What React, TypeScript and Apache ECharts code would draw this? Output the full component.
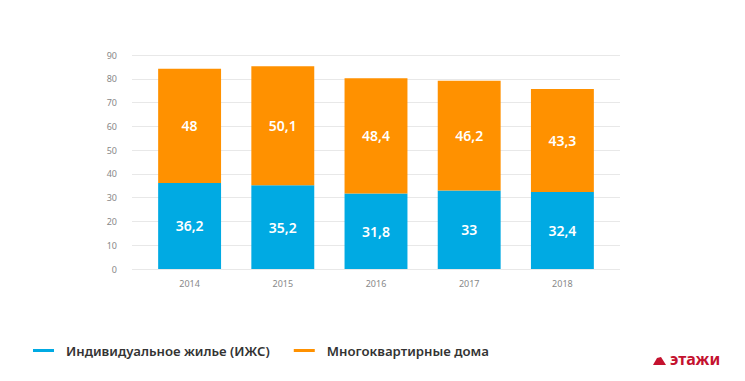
import React, { useEffect, useRef } from "react";
import * as echarts from "echarts";

const years = ["2014", "2015", "2016", "2017", "2018"];
const izhs = [36.2, 35.2, 31.8, 33, 32.4];
const mkd = [48, 50.1, 48.4, 46.2, 43.3];
const seriesNames = ["Индивидуальное жилье (ИЖС)", "Многоквартирные дома"];

const BLUE = "#00aae3";
const ORANGE = "#ff9100";
const FONT = "'Noto Sans', 'Open Sans', sans-serif";

export default function App() {
  const ref = useRef<HTMLDivElement>(null);
  useEffect(() => {
    const chart = echarts.init(ref.current!, undefined, { renderer: "svg" });
    const label = {
      show: true,
      color: "#fff",
      fontSize: 14,
      fontWeight: 600,
      fontFamily: FONT,
      formatter: (p: any) => String(p.value).replace(".", ","),
    };
    chart.setOption({
      animation: false,
      backgroundColor: "#fff",
      grid: [
        { left: 132, right: 125, top: 55, bottom: 112 },
        { left: 143, right: 136, top: 55, bottom: 112 },
      ],
      legend: {
        left: 28,
        top: 339,
        icon: "rect",
        itemWidth: 21,
        itemHeight: 3,
        itemGap: 24,
        textStyle: {
          color: "#333",
          fontSize: 13.2,
          fontWeight: 600,
          fontFamily: FONT,
          padding: [0, 0, 0, 7],
        },
        data: seriesNames,
      },
      xAxis: [
        { type: "value", gridIndex: 0, min: 0, max: 1, show: false },
        {
          type: "category",
          gridIndex: 1,
          data: years,
          axisLine: { show: false },
          axisTick: { show: false },
          axisLabel: { color: "#888", fontSize: 9, fontFamily: FONT, margin: 10 },
        },
      ],
      yAxis: [
        {
          type: "value",
          gridIndex: 0,
          min: 0,
          max: 90,
          interval: 10,
          axisLine: { show: false },
          axisTick: { show: false },
          splitLine: { lineStyle: { color: "#e8e8e8" } },
          axisLabel: { color: "#888", fontSize: 9, fontFamily: FONT, margin: 15 },
        },
        {
          type: "value",
          gridIndex: 1,
          min: 0,
          max: 90,
          interval: 10,
          show: false,
          splitLine: { show: false },
        },
      ],
      series: [
        {
          name: seriesNames[0],
          type: "bar",
          xAxisIndex: 1,
          yAxisIndex: 1,
          stack: "total",
          data: izhs,
          barWidth: "67.5%",
          itemStyle: { color: BLUE },
          label,
        },
        {
          name: seriesNames[1],
          type: "bar",
          xAxisIndex: 1,
          yAxisIndex: 1,
          stack: "total",
          data: mkd,
          barWidth: "67.5%",
          itemStyle: { color: ORANGE },
          label,
        },
      ],
      graphic: [
        {
          type: "polygon",
          shape: {
            points: [[653, 365], [657, 358], [661, 357], [666, 365]],
          },
          style: { fill: "#c4122f" },
        },
        {
          type: "text",
          left: 670,
          top: 351,
          style: {
            text: "этажи",
            fill: "#c4122f",
            fontSize: 16,
            fontWeight: "bold",
            fontFamily: FONT,
          },
        },
      ],
    });
    return () => chart.dispose();
  }, []);
  return (
    <div
      ref={ref}
      style={{ position: "absolute", left: 0, top: 0, width: 745, height: 381 }}
    />
  );
}
